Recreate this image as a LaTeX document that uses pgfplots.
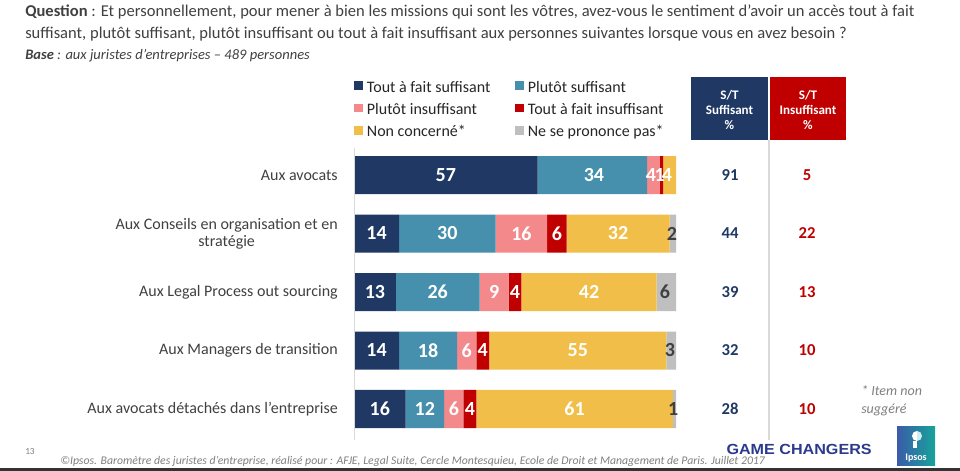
\documentclass[border=0pt]{standalone}
\usepackage{fontspec}
\setmainfont{Carlito}
\newfontfamily\arialfont{Liberation Sans}
\usepackage{graphicx}
\usepackage{pgfplots}
\pgfplotsset{compat=1.18}
\usepackage{pgfplotstable}
\definecolor{cnavy}{HTML}{1F3864}
\definecolor{cteal}{HTML}{4690AD}
\definecolor{cpink}{HTML}{F4898B}
\definecolor{cred}{HTML}{C00000}
\definecolor{cyel}{HTML}{F1BE4A}
\definecolor{cgrey}{HTML}{BFBFBF}
\definecolor{tgrey}{HTML}{404040}
\definecolor{lgrey}{HTML}{7F7F7F}
\definecolor{linegrey}{HTML}{D9D9D9}
\definecolor{gcblue}{HTML}{2B3A8C}
\definecolor{ipsA}{HTML}{3B5BA9}
\definecolor{ipsB}{HTML}{17A39A}
\pgfplotsset{sqlegend/.style={legend image code/.code={\fill[##1] (0pt,-3.25pt) rectangle (6.5pt,3.25pt);}}}
\newcommand{\lstrut}{\rule[-5.5pt]{0pt}{16.5pt}}

% y: 5 = Aux avocats (top) ... 1 = Aux avocats détachés (bottom)
\pgfplotstableread{
y taf pls pli tai nc nsp
1 16 12 6 4 61 1
2 14 18 6 4 55 3
3 13 26 9 4 42 6
4 14 30 16 6 32 2
5 57 34 4 1 4 0
}\bars

\pgfplotstableread{
x y lab
8 1 16
22 1 12
31 1 6
36 1 4
68.5 1 61
7 2 14
23 2 18
35 2 6
40 2 4
69.5 2 55
6.5 3 13
26 3 26
43.5 3 9
50 3 4
73 3 42
7 4 14
29 4 30
52 4 16
63 4 6
82 4 32
28.5 5 57
74.5 5 34
92.2 5 4
94.9 5 1
97.2 5 4
}\whitelabels

\pgfplotstableread{
x y lab
98.7 4 2
96.6 3 6
98.1 2 3
99.1 1 1
}\greylabels

\pgfplotstableread{
x y lab
116.8 5 91
116.8 4 44
116.8 3 39
116.8 2 32
116.8 1 28
}\stsuff

\pgfplotstableread{
x y lab
140.7 5 5
140.7 4 22
140.7 3 13
140.7 2 10
140.7 1 10
}\stinsuff

\begin{document}
\begin{tikzpicture}[x=0.75pt,y=0.75pt]
\useasboundingbox (0,0) rectangle (960,471);

% bars
\begin{axis}[
  at={(265.5pt,24.5625pt)}, anchor=south west,
  scale only axis, width=241.5pt, height=219.375pt,
  xbar stacked, bar width=28.5pt,
  xmin=0, xmax=100, ymin=0.5, ymax=5.5,
  axis line style={draw=none}, major tick length=0pt,
  xtick=\empty, ytick={1,2,3,4,5},
  yticklabels={Aux avocats détachés dans l’entreprise, Aux Managers de transition, Aux Legal Process out sourcing, {Aux Conseils en organisation et en\\stratégie}, Aux avocats},
  yticklabel style={align=center, font=\fontsize{12}{12.5}\selectfont, text=tgrey, inner sep=0pt, xshift=-12pt},
  clip=false,
  legend columns=2,
  legend cell align=left,
  legend style={at={(0,1.2335)}, anchor=north west, draw=none, fill=none, inner sep=0pt, outer sep=0pt,
    column sep=3.2pt, row sep=4.2pt,
    nodes={inner sep=0pt, outer sep=0pt, font=\fontsize{12}{13}\selectfont, text=black!85}},
]
\addplot[fill=cnavy, draw=none, sqlegend] table[x=taf, y=y] {\bars};
\addlegendentry{\makebox[107.8pt][l]{\lstrut Tout à fait suffisant}}
\addplot[fill=cteal, draw=none, sqlegend] table[x=pls, y=y] {\bars};
\addlegendentry{\lstrut Plutôt suffisant}
\addplot[fill=cpink, draw=none, sqlegend] table[x=pli, y=y] {\bars};
\addlegendentry{\makebox[107.8pt][l]{\lstrut Plutôt insuffisant}}
\addplot[fill=cred, draw=none, sqlegend] table[x=tai, y=y] {\bars};
\addlegendentry{\lstrut Tout à fait insuffisant}
\addplot[fill=cyel, draw=none, sqlegend] table[x=nc, y=y] {\bars};
\addlegendentry{\makebox[107.8pt][l]{\lstrut Non concerné*}}
\addplot[fill=cgrey, draw=none, sqlegend] table[x=nsp, y=y] {\bars};
\addlegendentry{\lstrut Ne se prononce pas*}
\end{axis}

% labels
\begin{axis}[
  at={(265.5pt,24.5625pt)}, anchor=south west,
  scale only axis, width=241.5pt, height=219.375pt,
  xmin=0, xmax=100, ymin=0.5, ymax=5.5,
  hide axis, clip=false,
  every axis plot/.append style={only marks, mark=*, mark size=0pt, mark options={draw=none, fill=none},
    nodes near coords, point meta=explicit symbolic},
]
\addplot[every node near coord/.append style={anchor=center, inner sep=0pt, text=white, font=\bfseries\fontsize{15}{15}\selectfont}]
  table[x=x, y=y, meta=lab] {\whitelabels};
\addplot[every node near coord/.append style={anchor=center, inner sep=0pt, text=tgrey, font=\bfseries\fontsize{15}{15}\selectfont}]
  table[x=x, y=y, meta=lab] {\greylabels};
\addplot[every node near coord/.append style={anchor=center, inner sep=0pt, text=cnavy, font=\bfseries\fontsize{12.5}{12.5}\selectfont}]
  table[x=x, y=y, meta=lab] {\stsuff};
\addplot[every node near coord/.append style={anchor=center, inner sep=0pt, text=cred, font=\bfseries\fontsize{12.5}{12.5}\selectfont}]
  table[x=x, y=y, meta=lab] {\stinsuff};
\end{axis}

% separators
\draw[linegrey, line width=1pt] (354.5,323) -- (354.5,31);
\draw[linegrey, line width=1.2pt] (769,331) -- (769,31);

% headers
\fill[cnavy] (691,394) rectangle (768,331);
\fill[cred] (770,394) rectangle (846,331);
\node[align=center, text=white, font=\bfseries\fontsize{9.8}{11.6}\selectfont] at (729.5,361) {S/T\\Suffisant\\\%};
\node[align=center, text=white, font=\bfseries\fontsize{9.8}{11.6}\selectfont] at (808,361) {S/T\\Insuffisant\\\%};

% title
\node[anchor=base west, inner sep=0pt, text=tgrey, font=\fontsize{12.4}{14}\selectfont] at (25,454)
  {\textbf{Question} : Et personnellement, pour mener à bien les missions qui sont les vôtres, avez-vous le sentiment d’avoir un accès tout à fait};
\node[anchor=base west, inner sep=0pt, text=tgrey, font=\fontsize{12.4}{14}\selectfont] at (25,432)
  {suffisant, plutôt suffisant, plutôt insuffisant ou tout à fait insuffisant aux personnes suivantes lorsque vous en avez besoin ?};
\node[anchor=base west, inner sep=0pt, text=tgrey, font=\itshape\fontsize{10.9}{12}\selectfont] at (25,411)
  {\textbf{Base} : aux juristes d’entreprises – 489 personnes};

% footnote
\node[anchor=north west, align=left, inner sep=0pt, text=lgrey, font=\itshape\fontsize{10.5}{13.5}\selectfont] at (861,86)
  {* Item non\\suggéré};

% footer
\node[anchor=base west, inner sep=0pt, text=lgrey, font=\fontsize{7}{8}\selectfont] at (25,16) {13};
\node[anchor=base west, inner sep=0pt, text=lgrey, font=\itshape\fontsize{8.8}{9}\selectfont] at (60,6)
  {©Ipsos. Baromètre des juristes d’entreprise, réalisé pour : AFJE, Legal Suite, Cercle Montesquieu, Ecole de Droit et Management de Paris. Juillet 2017};
\node[anchor=base east, inner sep=0pt, text=gcblue, font=\arialfont\bfseries\fontsize{11}{12}\selectfont] at (872,16.5)
  {\scalebox{1.1}[1]{GAME CHANGERS}};

% logo
\shade[left color=ipsA, right color=ipsB] (897,5) rectangle (935,44);
\fill[white] (913,23) rectangle (917,30);
\fill[white] (917,40) arc (90:270:5) -- cycle;
\fill[white!80!ipsB] (917,40) arc (90:-90:5) -- cycle;
\node[anchor=base, inner sep=0pt, text=white, font=\bfseries\fontsize{7.5}{8}\selectfont] at (916,10) {Ipsos};

% bottom strip
\fill[black!80] (0,0) rectangle (960,2.5);
\end{tikzpicture}
\end{document}
